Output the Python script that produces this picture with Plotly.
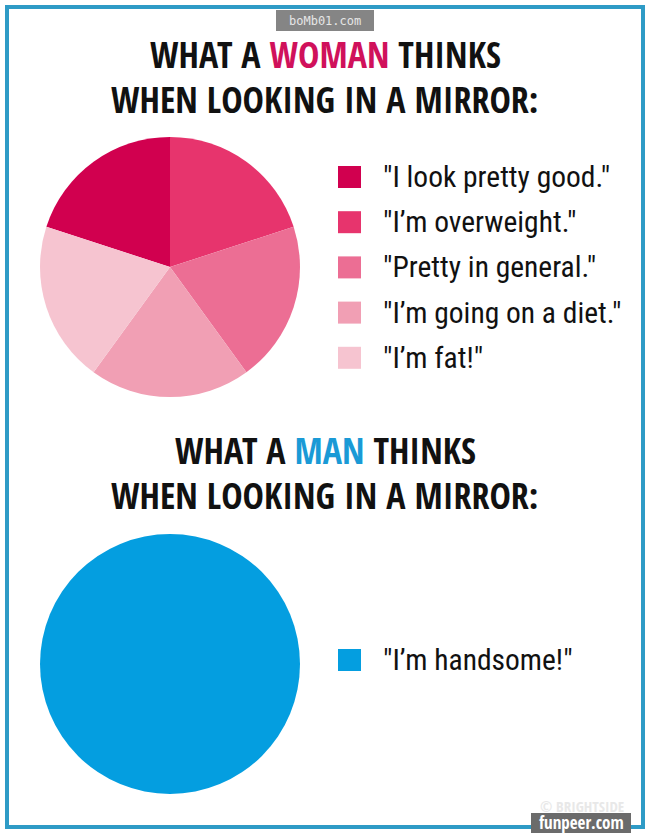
import plotly.graph_objects as go

# data
woman_labels = ['"I look pretty good."', '"I’m overweight."', '"Pretty in general."',
                '"I’m going on a diet."', '"I’m fat!"']
woman_values = [20, 20, 20, 20, 20]
woman_colors = ["#d1004f", "#e7346d", "#ec6e94", "#f19fb4", "#f6c4d0"]

man_labels = ['"I’m handsome!"']
man_values = [100]
man_colors = ["#049ee0"]

W, H = 650, 833
COND = "Open Sans Condensed, Roboto Condensed, sans-serif"
LEG = "Roboto Condensed, Open Sans Condensed, sans-serif"


def py(y):
    # pixel row -> paper y
    return 1 - y / H


def px(x):
    return x / W


fig = go.Figure()

fig.add_trace(go.Pie(
    labels=woman_labels, values=woman_values, sort=False,
    direction="clockwise", rotation=-72,
    marker=dict(colors=woman_colors, line=dict(width=0)),
    textinfo="none", hoverinfo="label+percent", showlegend=False,
    domain=dict(x=[px(40), px(300)], y=[py(397), py(137)]),
))
fig.add_trace(go.Pie(
    labels=man_labels, values=man_values, sort=False,
    marker=dict(colors=man_colors, line=dict(width=0)),
    textinfo="none", hoverinfo="label+percent", showlegend=False,
    domain=dict(x=[px(40), px(300)], y=[py(794), py(534)]),
))

shapes = []
annotations = []


def note(text, x, y, size, color, family=COND, weight="normal", xanchor="center"):
    annotations.append(dict(text=text, x=px(x), y=py(y), xref="paper", yref="paper",
                            xanchor=xanchor, yanchor="middle", showarrow=False,
                            font=dict(family=family, size=size, color=color, weight=weight)))


# legend boxes + labels, built from the data arrays
def add_legend(labels, colors, y0, step):
    for i, (lab, col) in enumerate(zip(labels, colors)):
        yc = y0 + i * step
        shapes.append(dict(type="rect", xref="paper", yref="paper",
                           x0=px(338), x1=px(361), y0=py(yc + 11), y1=py(yc - 11),
                           fillcolor=col, line=dict(width=0)))
        note(lab, 381, yc, 29.5, "#111", family=LEG, xanchor="left")

add_legend(woman_labels, woman_colors, 177, 45.2)
add_legend(man_labels, man_colors, 660, 45)

# titles
def add_title(line1, line2, y1, y2):
    note(line1, W / 2, y1, 36, "#111", weight="bold")
    note(line2, W / 2, y2, 36, "#111", weight="bold")

add_title("WHAT A <span style='color:#d0115b'>WOMAN</span> THINKS", "WHEN LOOKING IN A MIRROR:", 55, 100)
add_title("WHAT A <span style='color:#1a9ad6'>MAN</span> THINKS", "WHEN LOOKING IN A MIRROR:", 451, 496)

# frame
shapes.append(dict(type="rect", xref="paper", yref="paper",
                   x0=px(7), x1=px(643), y0=py(827), y1=py(7),
                   line=dict(color="#2e9bc6", width=4), layer="above"))

# watermarks
shapes.append(dict(type="rect", xref="paper", yref="paper",
                   x0=px(276), x1=px(374), y0=py(31), y1=py(10),
                   fillcolor="#858585", line=dict(width=0)))
note("boMb01.com", 325, 20.5, 12, "#e6e6e6", family="DejaVu Sans Mono")
note("© BRIGHTSIDE", 582, 806, 15, "#e8e8e8", weight="bold")
shapes.append(dict(type="rect", xref="paper", yref="paper",
                   x0=px(531), x1=px(631), y0=py(833), y1=py(813),
                   fillcolor="#6b6b6b", line=dict(width=0), layer="above"))
note("funpeer.com", 581, 822, 17, "#ffffff", weight="bold")

fig.update_layout(
    width=W, height=H, margin=dict(l=0, r=0, t=0, b=0),
    paper_bgcolor="white", plot_bgcolor="white",
    shapes=shapes, annotations=annotations, showlegend=False,
)

# page has a default 8px body margin; drop it so the chart fills the window
fig.write_html("out.html", post_script="document.body.style.margin='0';document.body.style.overflow='hidden';",
               config={"displayModeBar": False})
